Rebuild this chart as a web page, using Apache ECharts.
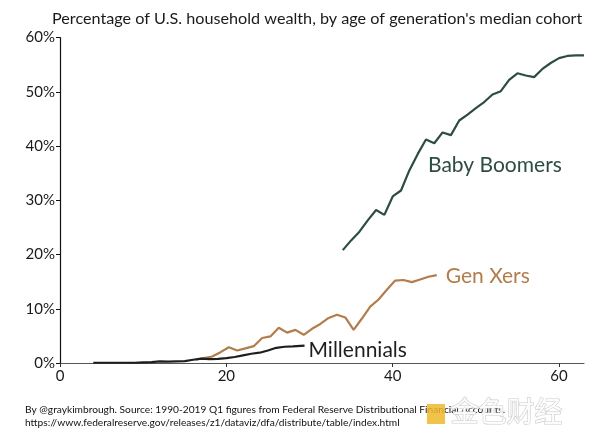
<!DOCTYPE html>
<html><head><meta charset="utf-8">
<script src="https://cdn.jsdelivr.net/npm/echarts@6/dist/echarts.min.js"></script>
<style>html,body{margin:0;padding:0;background:#fff}#c{width:600px;height:437px}</style>
</head><body><div id="c"></div>
<script>
// Age of generation's median cohort (years)
const boomerAges = [34,35,36,37,38,39,40,41,42,43,44,45,46,47,48,49,50,51,52,53,54,55,56,57,58,59,60,61,62,63];
const boomerShare = [20.8,22.6,24.2,26.3,28.2,27.3,30.7,31.8,35.5,38.5,41.2,40.5,42.5,42.0,44.7,45.8,47.0,48.1,49.5,50.1,52.2,53.4,53.0,52.7,54.2,55.3,56.2,56.6,56.7,56.7];
const genXAges = [16.3,17.3,18.3,19.3,20.3,21.3,22.3,23.3,24.3,25.3,26.3,27.3,28.3,29.3,30.3,31.3,32.3,33.3,34.3,35.3,36.3,37.3,38.3,39.3,40.3,41.3,42.3,43.3,44.3,45.3];
const genXShare = [0.6,0.9,1.2,2.0,2.9,2.3,2.7,3.1,4.6,4.9,6.5,5.6,6.1,5.2,6.3,7.2,8.3,8.9,8.4,6.1,8.2,10.4,11.7,13.5,15.2,15.3,14.9,15.4,15.9,16.2];
const millAges = [4.0,5.0,6.0,7.0,8.0,9.0,10.0,11.0,12.0,13.0,14.0,15.0,16.0,17.0,18.0,19.0,20.0,21.0,22.0,23.0,24.0,25.0,26.0,27.0,28.0,29.4];
const millShare = [0.05,0.05,0.05,0.05,0.05,0.05,0.1,0.15,0.3,0.25,0.3,0.35,0.6,0.8,0.7,0.75,0.9,1.1,1.4,1.7,1.9,2.3,2.8,3.0,3.05,3.2];
const seriesNames = ['Baby Boomers','Gen Xers','Millennials'];
const seriesColors = ['#2c4c44','#b27c4b','#1e1e1e'];
const yTicks = [0,10,20,30,40,50,60];
const xTicks = [0,20,40,60];

const pair = (xs, ys) => xs.map((x, i) => [x, ys[i]]);
const FONT = 'Lato';
const chart = echarts.init(document.getElementById('c'), null, {renderer:'canvas'});
chart.setOption({
  animation:false,
  textStyle:{fontFamily:FONT},
  title:{text:"Percentage of U.S. household wealth, by age of generation's median cohort",
    left:47, top:6, textStyle:{fontFamily:FONT,fontSize:16.2,fontWeight:'normal',color:'#1a1a1a'}},
  grid:{left:60,right:16,top:37.5,bottom:74},
  xAxis:{type:'value',min:0,max:63,interval:20,
    axisLine:{show:true,onZero:false,lineStyle:{color:'#555',width:1.2}},
    axisTick:{show:true,length:4,lineStyle:{color:'#333'},customValues:xTicks},
    axisLabel:{fontFamily:FONT,fontSize:15,color:'#1a1a1a',margin:6,customValues:xTicks},
    splitLine:{show:false}},
  yAxis:{type:'value',min:0,max:60,interval:10,
    axisLine:{show:true,lineStyle:{color:'#111',width:1.2}},
    axisTick:{show:true,length:4,lineStyle:{color:'#111'}},
    axisLabel:{fontFamily:FONT,fontSize:15,color:'#1a1a1a',margin:5,formatter:v=>v+'%'},
    splitLine:{show:false}},
  series:[
    {name:seriesNames[0],type:'line',data:pair(boomerAges,boomerShare),showSymbol:false,
      lineStyle:{color:seriesColors[0],width:2.2},itemStyle:{color:seriesColors[0]}},
    {name:seriesNames[1],type:'line',data:pair(genXAges,genXShare),showSymbol:false,
      lineStyle:{color:seriesColors[1],width:2.2},itemStyle:{color:seriesColors[1]},
      endLabel:{show:true,formatter:seriesNames[1],fontFamily:FONT,fontSize:21,color:seriesColors[1],distance:9,offset:[0,1]}},
    {name:seriesNames[2],type:'line',data:pair(millAges,millShare),showSymbol:false,
      lineStyle:{color:seriesColors[2],width:2.2},itemStyle:{color:seriesColors[2]},
      endLabel:{show:true,formatter:seriesNames[2],fontFamily:FONT,fontSize:21,color:seriesColors[2],distance:4,offset:[0,5]}}
  ],
  graphic:[
    {type:'text',left:428,top:155,style:{text:seriesNames[0],font:'21px Lato',fill:seriesColors[0]}},
    {type:'text',left:25,top:403,style:{text:'By @graykimbrough. Source: 1990-2019 Q1 figures from Federal Reserve Distributional Financial Accounts.\nhttps://www.federalreserve.gov/releases/z1/dataviz/dfa/distribute/table/index.html',
      font:'10.2px Lato',fill:'#111',lineHeight:13}},
    {type:'rect',left:427,top:404,shape:{width:18,height:20},style:{fill:'#f0b92c',opacity:0.85}},
    {type:'text',left:450,top:397,style:{text:'金色财经',font:'28px "Noto Sans CJK SC"',fill:'#ffffff',stroke:'#c8c8c8',lineWidth:1.2,opacity:0.9}}
  ]
});
</script></body></html>
